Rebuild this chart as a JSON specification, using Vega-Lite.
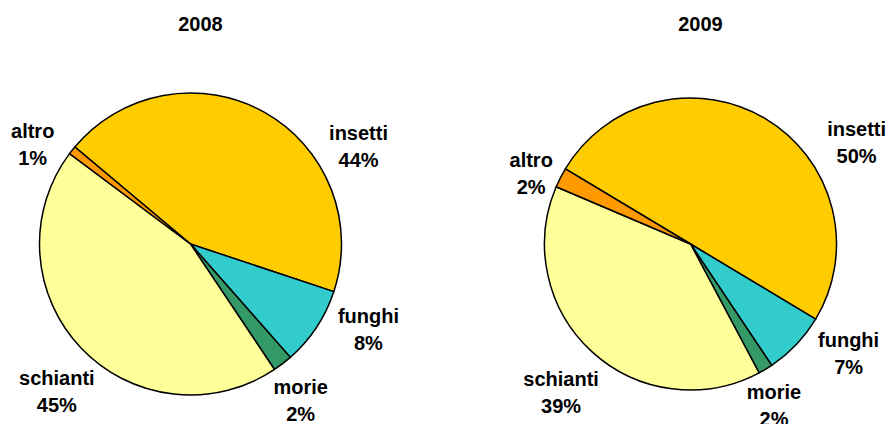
{
  "$schema": "https://vega.github.io/schema/vega-lite/v6.json",
  "padding": {"left": 0, "top": 15, "right": 0, "bottom": 0},
  "spacing": 119,
  "bounds": "flush",
  "config": {
    "view": {"stroke": null},
    "font": "Liberation Sans",
    "title": {"fontSize": 20, "fontWeight": "bold", "color": "#000000", "baseline": "alphabetic", "offset": 9, "frame": "group", "anchor": "middle", "dx": 10},
    "text": {"fontSize": 20, "fontWeight": "bold", "color": "#000000", "lineHeight": 27, "baseline": "middle", "align": "center", "dy": -13.5}
  },
  "datasets": {
    "y2008": [
      {"cat": "insetti", "value": 0.44, "ord": 1},
      {"cat": "funghi", "value": 0.084, "ord": 2},
      {"cat": "morie", "value": 0.021, "ord": 3},
      {"cat": "schianti", "value": 0.446, "ord": 4},
      {"cat": "altro", "value": 0.009, "ord": 5}
    ],
    "y2009": [
      {"cat": "insetti", "value": 0.5, "ord": 1},
      {"cat": "funghi", "value": 0.07, "ord": 2},
      {"cat": "morie", "value": 0.016, "ord": 3},
      {"cat": "schianti", "value": 0.392, "ord": 4},
      {"cat": "altro", "value": 0.022, "ord": 5}
    ]
  },
  "hconcat": [
    {
      "title": "2008",
      "width": 381,
      "height": 400,
      "data": {"name": "y2008"},
      "transform": [
        {"stack": "value", "groupby": [], "sort": [{"field": "ord", "order": "ascending"}], "as": ["s0", "s1"]},
        {"calculate": "(datum.s0 + datum.s1) / 2", "as": "mid"},
        {"calculate": "[datum.cat, format(datum.value, '.0%')]", "as": "label"}
      ],
      "encoding": {
        "theta": {"field": "s0", "type": "quantitative", "scale": {"domain": [0, 1], "range": [-0.8727, 5.4105]}}
      },
      "layer": [
        {
          "mark": {"type": "arc", "outerRadius": 151, "stroke": "#000000", "strokeWidth": 1.5},
          "encoding": {
            "theta2": {"field": "s1"},
            "color": {"field": "cat", "type": "nominal", "legend": null,
              "scale": {"domain": ["insetti", "funghi", "morie", "schianti", "altro"], "range": ["#FFCC00", "#33CCCC", "#339966", "#FFFF99", "#FF9900"]}}
          }
        },
        {
          "transform": [{"filter": "datum.cat === 'insetti'"}],
          "mark": {"type": "text", "radius": 194, "thetaOffset": 0.538},
          "encoding": {"theta": {"field": "mid", "type": "quantitative"}, "text": {"field": "label"}}
        },
        {
          "transform": [{"filter": "datum.cat === 'funghi'"}],
          "mark": {"type": "text", "radius": 198, "thetaOffset": -0.131},
          "encoding": {"theta": {"field": "mid", "type": "quantitative"}, "text": {"field": "label"}}
        },
        {
          "transform": [{"filter": "datum.cat === 'morie'"}],
          "mark": {"type": "text", "radius": 192, "thetaOffset": 0.045},
          "encoding": {"theta": {"field": "mid", "type": "quantitative"}, "text": {"field": "label"}}
        },
        {
          "transform": [{"filter": "datum.cat === 'schianti'"}],
          "mark": {"type": "text", "radius": 200, "thetaOffset": -0.079},
          "encoding": {"theta": {"field": "mid", "type": "quantitative"}, "text": {"field": "label"}}
        },
        {
          "transform": [{"filter": "datum.cat === 'altro'"}],
          "mark": {"type": "text", "radius": 186, "thetaOffset": -0.112},
          "encoding": {"theta": {"field": "mid", "type": "quantitative"}, "text": {"field": "label"}}
        }
      ]
    },
    {
      "title": "2009",
      "width": 381,
      "height": 400,
      "data": {"name": "y2009"},
      "transform": [
        {"stack": "value", "groupby": [], "sort": [{"field": "ord", "order": "ascending"}], "as": ["s0", "s1"]},
        {"calculate": "(datum.s0 + datum.s1) / 2", "as": "mid"},
        {"calculate": "[datum.cat, format(datum.value, '.0%')]", "as": "label"}
      ],
      "encoding": {
        "theta": {"field": "s0", "type": "quantitative", "scale": {"domain": [0, 1], "range": [-1.0297, 5.2535]}}
      },
      "layer": [
        {
          "mark": {"type": "arc", "outerRadius": 146, "stroke": "#000000", "strokeWidth": 1.5},
          "encoding": {
            "theta2": {"field": "s1"},
            "color": {"field": "cat", "type": "nominal", "legend": null,
              "scale": {"domain": ["insetti", "funghi", "morie", "schianti", "altro"], "range": ["#FFCC00", "#33CCCC", "#339966", "#FFFF99", "#FF9900"]}}
          }
        },
        {
          "transform": [{"filter": "datum.cat === 'insetti'"}],
          "mark": {"type": "text", "radius": 194, "thetaOffset": 0.487},
          "encoding": {"theta": {"field": "mid", "type": "quantitative"}, "text": {"field": "label"}}
        },
        {
          "transform": [{"filter": "datum.cat === 'funghi'"}],
          "mark": {"type": "text", "radius": 193, "thetaOffset": -0.15},
          "encoding": {"theta": {"field": "mid", "type": "quantitative"}, "text": {"field": "label"}}
        },
        {
          "transform": [{"filter": "datum.cat === 'morie'"}],
          "mark": {"type": "text", "radius": 183, "thetaOffset": 0.066},
          "encoding": {"theta": {"field": "mid", "type": "quantitative"}, "text": {"field": "label"}}
        },
        {
          "transform": [{"filter": "datum.cat === 'schianti'"}],
          "mark": {"type": "text", "radius": 198, "thetaOffset": -0.03},
          "encoding": {"theta": {"field": "mid", "type": "quantitative"}, "text": {"field": "label"}}
        },
        {
          "transform": [{"filter": "datum.cat === 'altro'"}],
          "mark": {"type": "text", "radius": 174, "thetaOffset": -0.058},
          "encoding": {"theta": {"field": "mid", "type": "quantitative"}, "text": {"field": "label"}}
        }
      ]
    }
  ]
}
